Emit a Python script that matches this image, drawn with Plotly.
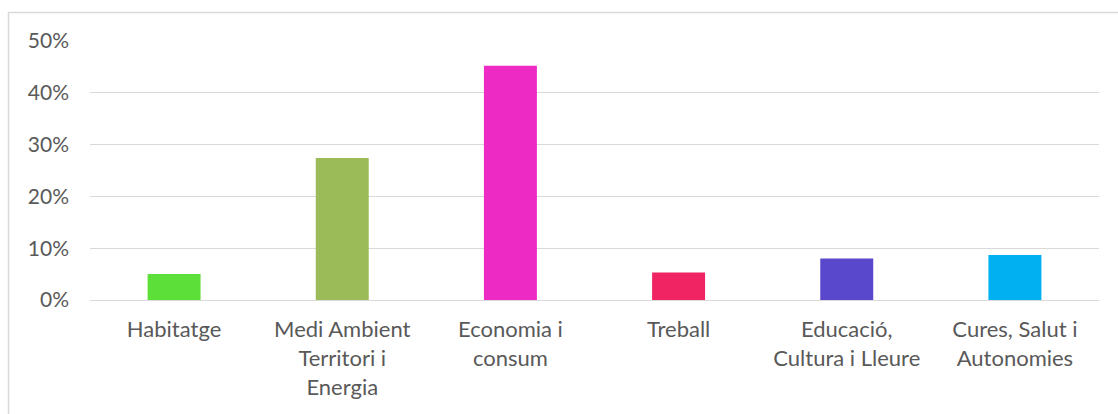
import plotly.graph_objects as go

categories = [
    "Habitatge",
    "Medi Ambient<br>Territori i<br>Energia",
    "Economia i<br>consum",
    "Treball",
    "Educació,<br>Cultura i Lleure",
    "Cures, Salut i<br>Autonomies",
]
shares = [5.0, 27.4, 45.2, 5.3, 8.0, 8.7]
bar_colors = ["#5DDF3A", "#9BBB59", "#EE2AC4", "#F02463", "#5A48CC", "#00B0F0"]
y_ticks = [0, 10, 20, 30, 40, 50]
y_tick_labels = ["0%", "10%", "20%", "30%", "40%", "50%"]

fig = go.Figure(
    go.Bar(
        x=categories,
        y=shares,
        marker=dict(color=bar_colors, line=dict(width=0)),
        width=0.315,
        hoverinfo="x+y",
    )
)

# outer chart frame
L, T, W, H = 90, 41, 1009, 259
def px_x(p):
    return (p - L) / W
def px_y(p):
    return (T + H - p) / H

fig.add_shape(
    type="rect", xref="paper", yref="paper",
    x0=px_x(8.5), x1=px_x(1160), y0=px_y(440), y1=px_y(12.5),
    line=dict(color="#D9D9D9", width=1.5), fillcolor="rgba(0,0,0,0)", layer="below",
)

fig.update_layout(
    width=1118, height=414,
    margin=dict(l=L, r=1118 - L - W, t=T, b=414 - T - H),
    paper_bgcolor="white", plot_bgcolor="white",
    font=dict(family="Lato, 'Open Sans', sans-serif", size=22, color="#595959"),
    showlegend=False,
    bargap=0.685,
)
fig.update_xaxes(
    showgrid=False, showline=True, linecolor="#D9D9D9", linewidth=1,
    ticks="", tickfont=dict(size=22, color="#595959"), tickangle=0,
    ticklabelstandoff=10,
)
fig.update_yaxes(
    range=[0, 50], tickvals=y_ticks, ticktext=y_tick_labels,
    showgrid=True, gridcolor="#D9D9D9", gridwidth=1,
    zeroline=False, showline=False, ticks="",
    tickfont=dict(size=21, color="#595959"), ticklabelstandoff=20,
)

fig.write_html("out.html")
